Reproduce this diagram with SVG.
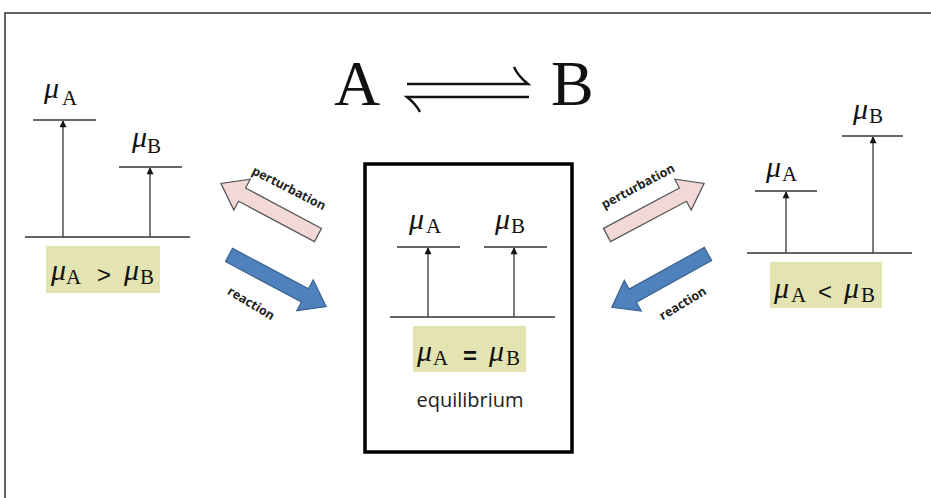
<svg xmlns="http://www.w3.org/2000/svg" width="931" height="498" viewBox="0 0 931 498">
<style>
.mu{font-family:"Liberation Serif",serif;font-style:italic;font-size:30px;fill:#111}
.sub{font-family:"Liberation Serif",serif;font-size:21px;fill:#111}
.op{font-family:"Liberation Sans",sans-serif;font-size:24px;fill:#111}
.lvl{stroke:#333;stroke-width:1.5;fill:none}
.vec{stroke:#444;stroke-width:1.4;fill:none;marker-end:url(#ah)}
.hl{fill:#e4e3b2}
.lab{font-family:"Open Sans",sans-serif;font-weight:bold;font-size:12.5px;fill:#222;text-anchor:middle}
.pert{fill:#f2d9d7;stroke:#555;stroke-width:1.2}
.reac{fill:#4f81bd;stroke:#3a628f;stroke-width:1.2}
</style>
<defs>
<marker id="ah" viewBox="0 0 10 10" refX="9" refY="5" markerWidth="8" markerHeight="7" orient="auto" markerUnits="userSpaceOnUse">
<path d="M0,0 L10,5 L0,10 z" fill="#111"/>
</marker>
<polygon id="arr" points="0,-7.5 86,-7.5 86,-17.5 110,0 86,17.5 86,7.5 0,7.5"/>
</defs>
<rect width="931" height="498" fill="#fff"/>
<path d="M5,498 V13 H931" fill="none" stroke="#333" stroke-width="1.5"/>

<g id="title">
<text x="334" y="105" font-family="Liberation Serif,serif" font-size="64" fill="#111">A</text>
<text x="551" y="105" font-family="Liberation Serif,serif" font-size="64" fill="#111">B</text>
<path d="M407,84 H528 Q518,76 514,67 M529,97 H407 Q416,104 420,112" fill="none" stroke="#111" stroke-width="2.4"/>
</g>

<g id="left-state">
<line class="lvl" x1="25" y1="237" x2="190" y2="237"/>
<line class="lvl" x1="33" y1="120" x2="96" y2="120"/>
<line class="lvl" x1="119" y1="167" x2="182" y2="167"/>
<line class="vec" x1="63" y1="237" x2="63" y2="121"/>
<line class="vec" x1="150" y1="237" x2="150" y2="168"/>
<text x="44" y="98" class="mu">μ</text><text x="62" y="105" class="sub">A</text>
<text x="132" y="147" class="mu">μ</text><text x="147" y="153" class="sub">B</text>
<rect class="hl" x="46" y="246" width="114" height="47"/>
<text x="51" y="280" class="mu">μ</text><text x="66" y="284" class="sub">A</text>
<text x="97" y="283" class="op">&gt;</text>
<text x="124" y="280" class="mu">μ</text><text x="140" y="284" class="sub">B</text>
</g>

<g id="center-state">
<rect x="365" y="164" width="207" height="288" fill="none" stroke="#000" stroke-width="3.5"/>
<line class="lvl" x1="390" y1="317" x2="555" y2="317"/>
<line class="lvl" x1="397" y1="247" x2="460" y2="247"/>
<line class="lvl" x1="484" y1="247" x2="547" y2="247"/>
<line class="vec" x1="428" y1="317" x2="428" y2="248"/>
<line class="vec" x1="514" y1="317" x2="514" y2="248"/>
<text x="409" y="229" class="mu">μ</text><text x="426" y="233" class="sub">A</text>
<text x="495" y="229" class="mu">μ</text><text x="511" y="233" class="sub">B</text>
<rect class="hl" x="413" y="326" width="113" height="46"/>
<text x="417" y="361" class="mu">μ</text><text x="433" y="365" class="sub">A</text>
<text x="463" y="364" class="op" font-weight="bold" font-size="26">=</text>
<text x="489" y="361" class="mu">μ</text><text x="506" y="365" class="sub">B</text>
<text x="470" y="407" font-family="Open Sans,sans-serif" font-size="20" fill="#222" text-anchor="middle">equilibrium</text>
</g>

<g id="right-state">
<line class="lvl" x1="747" y1="253" x2="912" y2="253"/>
<line class="lvl" x1="755" y1="191" x2="817" y2="191"/>
<line class="lvl" x1="842" y1="136" x2="903" y2="136"/>
<line class="vec" x1="786" y1="253" x2="786" y2="192"/>
<line class="vec" x1="873" y1="253" x2="873" y2="137"/>
<text x="766" y="177" class="mu">μ</text><text x="782" y="181" class="sub">A</text>
<text x="853" y="119" class="mu">μ</text><text x="869" y="123" class="sub">B</text>
<rect class="hl" x="770" y="262" width="112" height="46"/>
<text x="774" y="298" class="mu">μ</text><text x="791" y="302" class="sub">A</text>
<text x="818" y="300" class="op">&lt;</text>
<text x="844" y="298" class="mu">μ</text><text x="861" y="302" class="sub">B</text>
</g>

<g id="connectors">
<use href="#arr" class="pert" transform="translate(318,235) rotate(208)"/>
<use href="#arr" class="reac" transform="translate(229,255) rotate(28)"/>
<use href="#arr" class="pert" transform="translate(607,235) rotate(-28)"/>
<use href="#arr" class="reac" transform="translate(708,254) rotate(151)"/>
<text class="lab" transform="translate(287,192) rotate(27)">perturbation</text>
<text class="lab" transform="translate(249,307) rotate(31)">reaction</text>
<text class="lab" transform="translate(640,190) rotate(-28)">perturbation</text>
<text class="lab" transform="translate(685,307) rotate(-31)">reaction</text>
</g>
</svg>
